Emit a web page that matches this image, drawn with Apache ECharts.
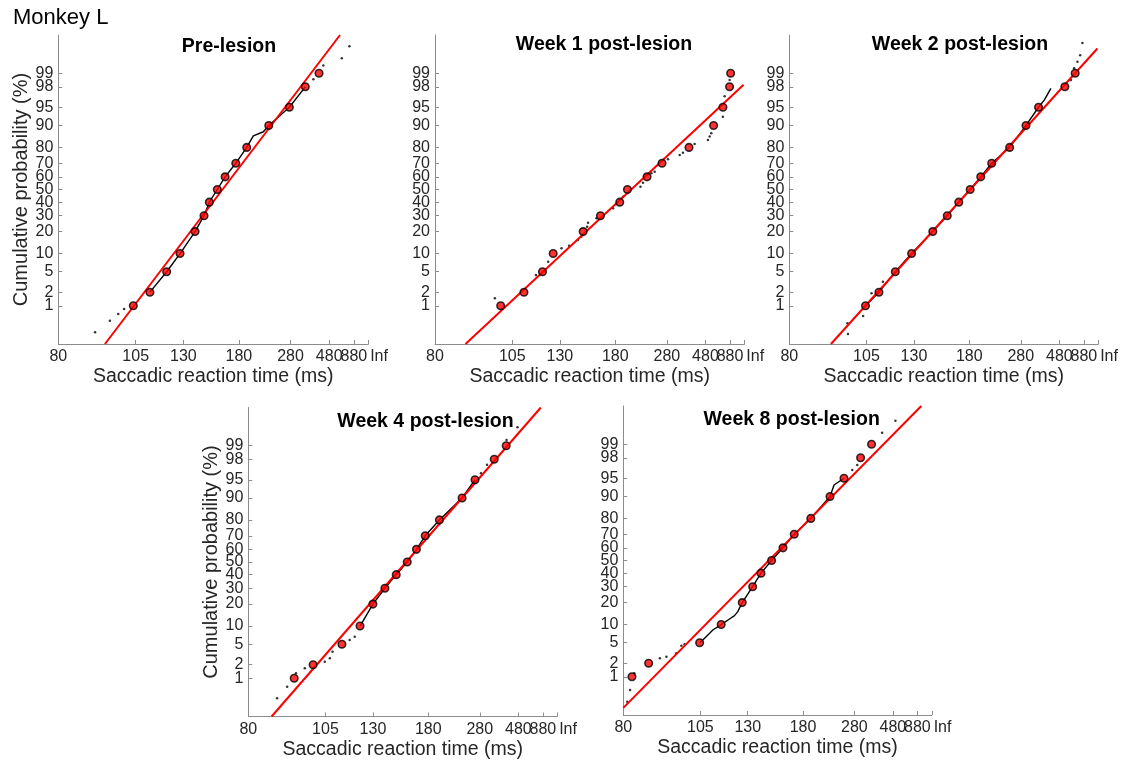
<!DOCTYPE html>
<html><head><meta charset="utf-8">
<script src="https://cdn.jsdelivr.net/npm/echarts@6/dist/echarts.min.js"></script>
<style>html,body{margin:0;padding:0;background:#fff}#c{width:1130px;height:763px}</style>
</head><body><div id="c"></div>
<script>
// ---------- data ----------
const figureTitle = 'Monkey L';
const panelTitles = ['Pre-lesion', 'Week 1 post-lesion', 'Week 2 post-lesion', 'Week 4 post-lesion', 'Week 8 post-lesion'];
const xTickRT = [80, 105, 130, 180, 280, 480, 880];
const xInfLabel = 'Inf';
const yTickPct = [1, 2, 5, 10, 20, 30, 40, 50, 60, 70, 80, 90, 95, 98, 99];
const xName = 'Saccadic reaction time (ms)';
const yName = 'Cumulative probability (%)';

// percentile levels of the red markers
const pct = [1, 2, 5, 10, 20, 30, 40, 50, 60, 70, 80, 90, 95, 98, 99];
// RT (ms) at each percentile
const rtPre = [104.0, 111.4, 120.0, 127.9, 138.1, 145.0, 149.4, 156.6, 164.3, 176.2, 190.3, 226.9, 276.6, 333, 404];
const rtW1  = [100.3, 110.2, 119.6, 125.8, 147.2, 163.2, 185.7, 196.5, 230.8, 266.2, 367.9, 565, 709, 866, 897];
const rtW2  = [104.6, 110.6, 118.9, 128.5, 143.6, 156.1, 167.7, 181.1, 195.5, 213.1, 250, 296.8, 346.6, 535, 679];
const rtW4  = [93.2, 100, 112.5, 122.1, 130, 138.3, 147.2, 157, 166.3, 176.2, 195, 235.1, 266.4, 332, 392];
const rtW8  = [82.2, 86.8, 104.7, 114.7, 126.5, 133.3, 139.3, 147.7, 158, 169.6, 190.3, 221.6, 251.7, 300.2, 343.9];

// fitted lines: [RT ms, cumulative %] end points
const fitPre = [[93.4, 0.1], [600, 99.9]];
const fitW1  = [[88.3, 0.1], [1626, 98.2]];
const fitW2  = [[91.8, 0.1], [1626, 99.76]];
const fitW4  = [[86.2, 0.1], [823, 99.9]];
const fitW8  = [[80, 0.16], [1015, 99.9]];

// extra points on the dense empirical curve [RT, %]
const curvePre = [[200, 85.8], [216.7, 87.6]];
const curveW2  = [[375.2, 96.3], [415.3, 97.85]];
const curveW8  = [[106.1, 5.59], [109.1, 7.27], [110.6, 8.23], [119.1, 12.1], [121.9, 13.5], [123.8, 15.3], [229.5, 93.45]];

// isolated single trials [RT, %]
const dotsPre = [[90.2, 0.215], [95.1, 0.43], [98.1, 0.64], [100.3, 0.84], [371.5, 98.62], [433, 99.34], [625, 99.57], [764.5, 99.79]];
const dotsW1 = [[98.1, 1.48], [116.1, 4.36], [122.8, 7.44], [131.1, 11.98], [136.3, 13.05], [142.9, 15.6], [145.8, 17.3],
  [150.6, 22.8], [151.4, 25.3], [159.2, 28.2], [177.2, 35.3], [181.4, 38.6], [190.2, 44.3], [218, 52.2], [222.8, 55.4],
  [240.1, 62.7], [247.6, 63.9], [283.5, 72.7], [325, 75.5], [339, 76.9], [400, 81.9], [503, 83.9], [520, 85.5], [538, 86.95],
  [708, 92.7], [743, 96.9], [867, 98.57]];
const dotsW2 = [[97.5, 0.372], [97.7, 0.193], [103.6, 0.57], [107.2, 1.9], [112.5, 3.26], [610.5, 98.57], [661, 99.23],
  [722, 99.47], [781, 99.64], [839, 99.83]];
const dotsW4 = [[87.8, 0.32], [90.9, 0.63], [93.8, 1.30], [96.9, 1.68], [104.7, 2.31], [106.9, 2.7], [108.1, 3.64],
  [116.4, 5.94], [119.1, 6.76], [283.8, 96.2], [303.8, 97.4], [394, 99.27], [472.8, 99.65]];
const dotsW8 = [[81.7, 0.48], [81.0, 0.237], [82.8, 1.2], [90.2, 2.52], [92.3, 2.72], [95.7, 3.17], [97.5, 4.42], [98.7, 4.69],
  [273.7, 96.5], [288.9, 97.2], [400, 99.47], [503.8, 99.74]];

// ---------- transforms ----------
function norminv(p) {
  const a = [-3.969683028665376e+01, 2.209460984245205e+02, -2.759285104469687e+02, 1.383577518672690e+02, -3.066479806614716e+01, 2.506628277459239e+00];
  const b = [-5.447609879822406e+01, 1.615858368580409e+02, -1.556989798598866e+02, 6.680131188771972e+01, -1.328068155288572e+01];
  const c = [-7.784894002430293e-03, -3.223964580411365e-01, -2.400758277161838e+00, -2.549732539343734e+00, 4.374664141464968e+00, 2.938163982698783e+00];
  const d = [7.784695709041462e-03, 3.224671290700398e-01, 2.445134137142996e+00, 3.754408661907416e+00];
  const pl = 0.02425, ph = 1 - pl; let q, r;
  if (p < pl) { q = Math.sqrt(-2 * Math.log(p)); return (((((c[0]*q+c[1])*q+c[2])*q+c[3])*q+c[4])*q+c[5]) / ((((d[0]*q+d[1])*q+d[2])*q+d[3])*q+1); }
  if (p <= ph) { q = p - 0.5; r = q*q; return (((((a[0]*r+a[1])*r+a[2])*r+a[3])*r+a[4])*r+a[5])*q / (((((b[0]*r+b[1])*r+b[2])*r+b[3])*r+b[4])*r+1); }
  q = Math.sqrt(-2 * Math.log(1 - p)); return -(((((c[0]*q+c[1])*q+c[2])*q+c[3])*q+c[4])*q+c[5]) / ((((d[0]*q+d[1])*q+d[2])*q+d[3])*q+1);
}
function normcdf(z) {
  const x = Math.abs(z) / Math.SQRT2, t = 1 / (1 + 0.3275911 * x);
  const y = 1 - (((((1.061405429*t - 1.453152027)*t) + 1.421413741)*t - 0.284496736)*t + 0.254829592)*t*Math.exp(-x*x);
  return z >= 0 ? (1 + y) / 2 : (1 - y) / 2;
}
const toX = rt => -1000 / rt;
const toY = p => norminv(p / 100);
const pt = ([rt, p]) => [toX(rt), toY(p)];
const X_MIN = -12.5, X_MAX = -0.58, X_INF = -0.59;
const Y_MAX = norminv(0.999), Y_MIN = -Y_MAX;

const quant = rts => rts.map((rt, i) => [rt, pct[i]]);
const seg = (rts, a, b) => quant(rts).slice(a, b + 1);
const sortP = arr => arr.slice().sort((u, v) => u[1] - v[1]);

const panels = [
  { rts: rtPre, fit: fitPre, dots: dotsPre, traces: [sortP(seg(rtPre, 1, 13).concat(curvePre))] },
  { rts: rtW1, fit: fitW1, dots: dotsW1, traces: [] },
  { rts: rtW2, fit: fitW2, dots: dotsW2, traces: [sortP(seg(rtW2, 0, 12).concat(curveW2))] },
  { rts: rtW4, fit: fitW4, dots: dotsW4, traces: [seg(rtW4, 3, 12)] },
  { rts: rtW8, fit: fitW8, dots: dotsW8, traces: [sortP(seg(rtW8, 2, 12).concat(curveW8))] }
];

// ---------- layout ----------
const grids = [
  { left: 58.3, top: 35, width: 310, height: 309 },
  { left: 435, top: 35, width: 309.5, height: 309 },
  { left: 789.3, top: 35, width: 309, height: 309 },
  { left: 248.3, top: 407.5, width: 309, height: 309 },
  { left: 623.3, top: 406, width: 308.5, height: 309 }
];
const titlePos = [[229, 47], [604, 45], [960, 45], [425.5, 422], [791.7, 420]];
const FONT = '"Liberation Sans", Arial, Helvetica, sans-serif';
const AX = '#8c8c8c', TXT = '#262626';

// label positions: blank end labels keep the library from dropping the outer tick labels
const xLabelVals = xTickRT.map(toX).concat([X_INF, X_MAX]);
const yLabelVals = [Y_MIN].concat(yTickPct.map(toY), [Y_MAX]);

const option = {
  animation: false,
  backgroundColor: '#fff',
  grid: grids.map(g => Object.assign({ containLabel: false, outerBoundsMode: 'none' }, g)),
  xAxis: grids.map((g, i) => ({
    type: 'value', gridIndex: i, min: X_MIN, max: X_MAX,
    name: xName, nameLocation: 'middle', nameGap: 23,
    nameTextStyle: { fontFamily: FONT, fontSize: 19.5, color: TXT },
    axisLine: { show: true, onZero: false, lineStyle: { color: AX, width: 1 } },
    axisTick: { show: true, inside: true, length: 4, lineStyle: { color: AX },
      customValues: xTickRT.map(toX).concat([X_MAX]) },
    axisLabel: { show: true, margin: 5, fontFamily: FONT, fontSize: 16, color: TXT,
      hideOverlap: false,
      customValues: xLabelVals,
      rich: { inf: { fontFamily: FONT, fontSize: 16, color: TXT, padding: [0, 0, 0, 22] } },
      formatter: v => (v > X_MAX - 1e-9 ? '' : (v > X_INF - 1e-9 ? '{inf|' + xInfLabel + '}' : String(Math.round(-1000 / v)))) },
    splitLine: { show: false }
  })),
  yAxis: grids.map((g, i) => ({
    type: 'value', gridIndex: i, min: Y_MIN, max: Y_MAX,
    name: (i === 0 || i === 3) ? yName : '', nameLocation: 'middle', nameGap: 26, nameRotate: 90,
    nameTextStyle: { fontFamily: FONT, fontSize: 20, color: TXT },
    axisLine: { show: true, onZero: false, lineStyle: { color: AX, width: 1 } },
    axisTick: { show: true, inside: true, length: 4, lineStyle: { color: AX },
      customValues: yTickPct.map(toY) },
    axisLabel: { show: true, margin: 5, fontFamily: FONT, fontSize: 16, color: TXT,
      hideOverlap: false,
      customValues: yLabelVals,
      formatter: v => (Math.abs(v) > 3 ? '' : String(Math.round(normcdf(v) * 100))) },
    splitLine: { show: false }
  })),
  graphic: [
    { type: 'text', x: 13, y: 18, style: { text: figureTitle, font: '22px ' + FONT, fill: '#000', textAlign: 'left', textVerticalAlign: 'middle' } }
  ].concat(panelTitles.map((t, i) => ({
    type: 'text', x: titlePos[i][0], y: titlePos[i][1],
    style: { text: t, font: 'bold 19.5px ' + FONT, fill: '#000', textAlign: 'center', textVerticalAlign: 'middle' }
  }))),
  series: []
};

panels.forEach((p, i) => {
  option.series.push({
    type: 'line', xAxisIndex: i, yAxisIndex: i, data: p.fit.map(pt), showSymbol: false, symbol: 'none',
    lineStyle: { color: '#ff0000', width: 2 }, z: 3, silent: true
  });
  p.traces.forEach(tr => option.series.push({
    type: 'line', xAxisIndex: i, yAxisIndex: i, data: tr.map(pt), symbol: 'none',
    lineStyle: { color: '#000', width: 1.4 }, z: 2, silent: true
  }));
  option.series.push({
    type: 'scatter', xAxisIndex: i, yAxisIndex: i, data: p.dots.map(pt), symbolSize: 2.5,
    itemStyle: { color: '#000' }, z: 2, silent: true
  });
  option.series.push({
    type: 'scatter', xAxisIndex: i, yAxisIndex: i, data: quant(p.rts).map(pt), symbolSize: 7.5,
    itemStyle: { color: '#ff0000', borderColor: '#000', borderWidth: 1.6 }, z: 4, silent: true
  });
});

const chart = echarts.init(document.getElementById('c'), null, { renderer: 'canvas' });
chart.setOption(option);
</script>
</body></html>
